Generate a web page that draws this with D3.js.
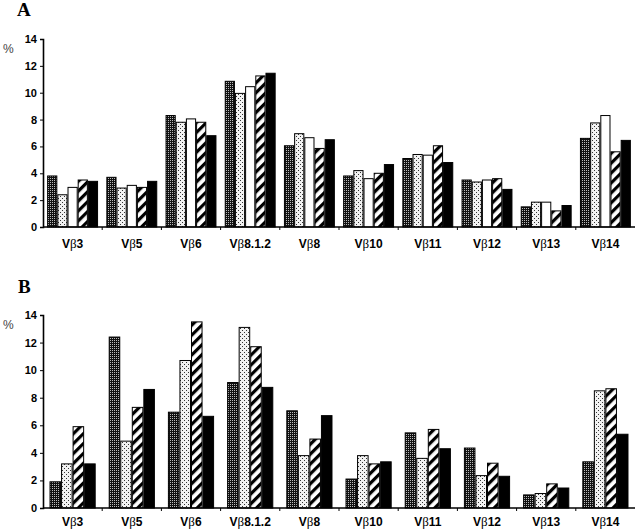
<!DOCTYPE html>
<html><head><meta charset="utf-8">
<script src="https://cdn.jsdelivr.net/npm/d3@7"></script>
<style>body{margin:0;background:#fff}svg{display:block}</style>
</head><body>
<svg id="c" width="640" height="530"></svg>
<script>
const categories = ["3","5","6","8.1.2","8","10","11","12","13","14"];
const yTicks = [0,2,4,6,8,10,12,14];
// Panel A (5 series)
const a_dark   = [3.8,3.7,8.3,10.85,6.05,3.8,5.1,3.5,1.5,6.6];
const a_dotted = [2.4,2.9,7.8,9.95,6.95,4.2,5.4,3.35,1.85,7.75];
const a_white  = [2.95,3.1,8.05,10.45,6.65,3.6,5.35,3.5,1.85,8.3];
const a_hatch  = [3.5,2.95,7.8,11.25,5.85,4.0,6.05,3.6,1.2,5.6];
const a_black  = [3.4,3.4,6.8,11.45,6.5,4.65,4.8,2.8,1.6,6.45];
// Panel B (4 series)
const b_dark   = [1.9,12.4,6.95,9.1,7.05,2.1,5.45,4.35,0.95,3.35];
const b_dotted = [3.2,4.85,10.7,13.1,3.8,3.8,3.6,2.35,1.05,8.5];
const b_hatch  = [5.9,7.3,13.5,11.7,5.0,3.2,5.7,3.25,1.75,8.65];
const b_black  = [3.2,8.6,6.65,8.75,6.7,3.35,4.3,2.3,1.45,5.35];

const svg = d3.select("#c");
const defs = svg.append("defs");
let p = defs.append("pattern").attr("id","pDark").attr("patternUnits","userSpaceOnUse").attr("width",2).attr("height",2);
p.append("rect").attr("width",2).attr("height",2).attr("fill","#111");
p.append("rect").attr("width",1).attr("height",1).attr("fill","#bbb");
p = defs.append("pattern").attr("id","pDot").attr("patternUnits","userSpaceOnUse").attr("width",4).attr("height",4);
p.append("rect").attr("width",4).attr("height",4).attr("fill","#f2f2f2");
p.append("rect").attr("x",0).attr("y",0).attr("width",1).attr("height",1).attr("fill","#333");
p.append("rect").attr("x",2).attr("y",2).attr("width",1).attr("height",1).attr("fill","#333");
p = defs.append("pattern").attr("id","pHatch").attr("patternUnits","userSpaceOnUse").attr("width",7).attr("height",7).attr("patternTransform","rotate(45)");
p.append("rect").attr("width",7).attr("height",7).attr("fill","#fff");
p.append("rect").attr("width",3.2).attr("height",7).attr("fill","#000");

const fills = {dark:"url(#pDark)", dot:"url(#pDot)", white:"#fff", hatch:"url(#pHatch)", black:"#000"};

function panel(cfg){
  const g = svg.append("g");
  const y = d3.scaleLinear().domain([0,14]).range([cfg.y0, cfg.y14]);
  const x0 = d3.scaleBand().domain(categories).range([43,635]).paddingInner(cfg.pi).paddingOuter(cfg.po);
  const x1 = d3.scaleBand().domain(cfg.series.map(s=>s.key)).range([0,x0.bandwidth()]);
  cfg.series.forEach(s=>{
    g.append("g").selectAll("rect").data(s.values).join("rect")
      .attr("x",(d,i)=>x0(categories[i])+x1(s.key)+0.5)
      .attr("y",d=>y(d))
      .attr("width",x1.bandwidth()-1)
      .attr("height",d=>y(0)-y(d))
      .attr("fill",fills[s.key])
      .attr("stroke","#000").attr("stroke-width",1);
  });
  const ya = g.append("g").attr("transform","translate(43,0)")
    .call(d3.axisLeft(y).tickValues(yTicks).tickSize(3).tickPadding(3));
  ya.select(".domain").attr("stroke-width",1.6);
  ya.selectAll("text").attr("font-family","Liberation Sans, Arial, sans-serif").attr("font-weight","bold").attr("font-size",11).attr("fill","#000");
  const xa = g.append("g").attr("transform",`translate(0,${cfg.y0})`);
  xa.append("line").attr("x1",43).attr("x2",635).attr("stroke","#000").attr("stroke-width",1.6);
  xa.selectAll("line.t").data(categories.slice(1)).join("line").attr("class","t")
    .attr("x1",d=>x0(d)-x0.step()*x0.paddingInner()/2).attr("x2",d=>x0(d)-x0.step()*x0.paddingInner()/2)
    .attr("y1",0).attr("y2",3).attr("stroke","#000");
  const lab = xa.selectAll("text").data(categories).join("text")
    .attr("x",d=>x0(d)+x0.bandwidth()/2).attr("y",cfg.labelDy)
    .attr("text-anchor","middle").attr("font-family","Liberation Sans, Arial, sans-serif")
    .attr("font-weight","bold").attr("font-size",12);
  lab.append("tspan").text("V");
  lab.append("tspan").attr("font-family","Liberation Serif, Times New Roman, serif").attr("font-weight","normal").attr("font-size",13).text("β");
  lab.append("tspan").text(d=>d);
  g.append("text").attr("x",3).attr("y",cfg.y14+14).attr("font-family","Liberation Sans, Arial, sans-serif")
    .attr("font-size",12).attr("fill","#444").text("%");
  g.append("text").attr("x",cfg.letterX).attr("y",cfg.letterY).attr("font-family","Liberation Serif, Times New Roman, serif")
    .attr("font-weight","bold").attr("font-size",19).text(cfg.letter);
}

panel({y0:227, y14:39, pi:0.14, po:0.07, labelDy:21, letter:"A", letterX:17, letterY:16,
  series:[{key:"dark",values:a_dark},{key:"dot",values:a_dotted},{key:"white",values:a_white},{key:"hatch",values:a_hatch},{key:"black",values:a_black}]});
panel({y0:508, y14:315, pi:0.22, po:0.11, labelDy:18, letter:"B", letterX:18, letterY:293,
  series:[{key:"dark",values:b_dark},{key:"dot",values:b_dotted},{key:"hatch",values:b_hatch},{key:"black",values:b_black}]});
</script>
</body></html>
